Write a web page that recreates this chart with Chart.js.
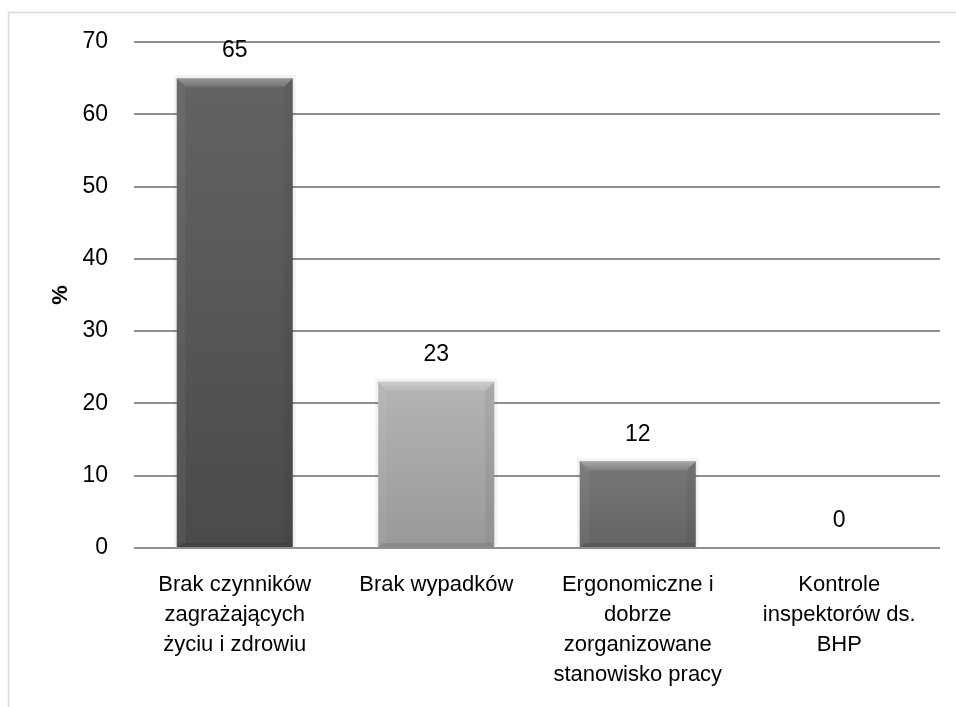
<!DOCTYPE html>
<html>
<head>
<meta charset="utf-8">
<script src="https://cdn.jsdelivr.net/npm/chart.js@4.4.0/dist/chart.umd.min.js"></script>
<style>
  html, body { margin: 0; padding: 0; background: #fff; }
  #wrap { width: 956px; height: 707px; position: relative; }
</style>
</head>
<body>
<div id="wrap"><canvas id="c" width="956" height="707"></canvas></div>
<script>
const categories = [
  ["Brak czynników", "zagrażających", "życiu i zdrowiu"],
  ["Brak wypadków"],
  ["Ergonomiczne i", "dobrze", "zorganizowane", "stanowisko pracy"],
  ["Kontrole", "inspektorów ds.", "BHP"]
];
const values = [65, 23, 12, 0];
const yTicks = { min: 0, max: 70, step: 10 };
const yTitle = "%";
const barTop = ["#636363", "#b4b4b4", "#787878", "#888888"];
const barBottom = ["#4a4a4a", "#999999", "#636363", "#777777"];

const numFont = "'Liberation Sans', Arial, sans-serif";
const catFont = "'Liberation Sans', Arial, sans-serif";

const frame = {
  id: 'frame',
  beforeDraw(chart) {
    const c = chart.ctx;
    c.save();
    c.strokeStyle = '#d9d9d9';
    c.lineWidth = 1.5;
    c.beginPath();
    c.moveTo(8.5, 720);
    c.lineTo(8.5, 12.5);
    c.lineTo(970, 12.5);
    c.stroke();
    c.restore();
  }
};

const bevel = {
  id: 'bevel',
  beforeDatasetsDraw(chart) {
    const c = chart.ctx;
    const meta = chart.getDatasetMeta(0);
    c.save();
    meta.data.forEach((el) => {
      const h = el.base - el.y;
      if (h < 2) return;
      const w = el.width;
      const x0 = el.x - w / 2, y0 = el.y;
      c.fillStyle = 'rgba(0,0,0,0.05)';
      c.fillRect(x0 - 3, y0 - 3, w + 6, h + 2);
    });
    c.restore();
  },
  afterDatasetsDraw(chart) {
    const c = chart.ctx;
    const meta = chart.getDatasetMeta(0);
    c.save();
    meta.data.forEach((el) => {
      const h = el.base - el.y;
      if (h < 2) return;
      const w = el.width;
      const x0 = el.x - w / 2, x1 = el.x + w / 2, y0 = el.y, y1 = el.base;
      const b = 9;
      let g = c.createLinearGradient(0, y0, 0, y0 + b);
      g.addColorStop(0, 'rgba(255,255,255,0.35)');
      g.addColorStop(1, 'rgba(255,255,255,0.08)');
      c.fillStyle = g;
      c.beginPath();
      c.moveTo(x0, y0); c.lineTo(x1, y0); c.lineTo(x1 - b, y0 + b); c.lineTo(x0 + b, y0 + b); c.closePath();
      c.fill();
      c.fillStyle = 'rgba(255,255,255,0.05)';
      c.beginPath();
      c.moveTo(x0, y0); c.lineTo(x0 + b, y0 + b); c.lineTo(x0 + b, y1 - 4); c.lineTo(x0, y1); c.closePath();
      c.fill();
      c.fillStyle = 'rgba(0,0,0,0.05)';
      c.beginPath();
      c.moveTo(x1, y0); c.lineTo(x1 - b, y0 + b); c.lineTo(x1 - b, y1 - 4); c.lineTo(x1, y1); c.closePath();
      c.fill();
      c.fillStyle = 'rgba(0,0,0,0.10)';
      c.beginPath();
      c.moveTo(x0, y1); c.lineTo(x1, y1); c.lineTo(x1 - 4, y1 - 4); c.lineTo(x0 + 4, y1 - 4); c.closePath();
      c.fill();
    });
    c.restore();
  }
};

const valueLabels = {
  id: 'valueLabels',
  afterDatasetsDraw(chart) {
    const c = chart.ctx;
    const meta = chart.getDatasetMeta(0);
    c.save();
    c.fillStyle = '#000';
    c.font = "23px " + numFont;
    c.textAlign = 'center';
    c.textBaseline = 'middle';
    meta.data.forEach((el, i) => {
      c.fillText(String(values[i]), el.x, el.y - 27);
    });
    c.restore();
  }
};

function barFill(ctx) {
  const chart = ctx.chart;
  const i = ctx.dataIndex;
  const ys = chart.scales && chart.scales.y;
  if (!ys || !chart.chartArea) return barTop[i];
  const top = ys.getPixelForValue(values[i]);
  const bot = ys.getPixelForValue(0);
  if (bot - top < 2) return barTop[i];
  const g = chart.ctx.createLinearGradient(0, top, 0, bot);
  g.addColorStop(0, barTop[i]);
  g.addColorStop(1, barBottom[i]);
  return g;
}

new Chart(document.getElementById('c'), {
  type: 'bar',
  data: {
    labels: categories,
    datasets: [{
      data: values,
      backgroundColor: barFill,
      borderWidth: 0,
      categoryPercentage: 0.576,
      barPercentage: 1.0
    }]
  },
  options: {
    responsive: false,
    animation: false,
    devicePixelRatio: 1,
    layout: { padding: { top: 42, right: 16, left: 0, bottom: 0 } },
    plugins: {
      legend: { display: false },
      tooltip: { enabled: false }
    },
    scales: {
      x: {
        grid: { display: false },
        border: { display: false },
        ticks: {
          color: '#000',
          font: { family: catFont, size: 22, lineHeight: 1.36 },
          padding: 14,
          maxRotation: 0,
          autoSkip: false
        },
        afterFit(scale) { scale.height = 159; }
      },
      y: {
        min: yTicks.min,
        max: yTicks.max,
        ticks: {
          stepSize: yTicks.step,
          color: '#000',
          font: { family: numFont, size: 23 },
          padding: 26
        },
        grid: { color: '#8f8f8f', lineWidth: 2, drawTicks: false },
        border: { display: false },
        title: {
          display: true,
          text: yTitle,
          color: '#000',
          font: { family: numFont, size: 22, weight: 'bold' },
          padding: { top: 48, bottom: 0 }
        },
        afterFit(scale) { scale.width = 134; }
      }
    }
  },
  plugins: [frame, bevel, valueLabels]
});
</script>
</body>
</html>
